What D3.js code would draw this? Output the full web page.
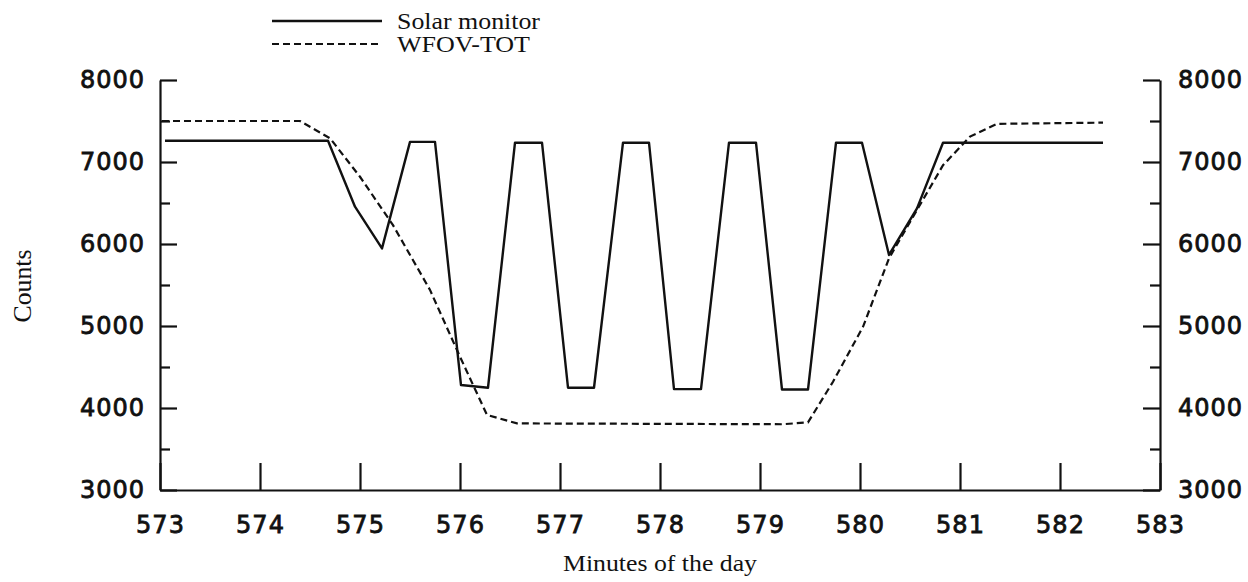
<!DOCTYPE html>
<html>
<head>
<meta charset="utf-8">
<script src="https://cdn.jsdelivr.net/npm/d3@7/dist/d3.min.js"></script>
<style>
  body { margin: 0; background: #fff; }
  svg { display: block; }
  .tick text { font-family: "DejaVu Sans", sans-serif; font-size: 24px; letter-spacing: 1px; fill: #111; stroke: #111; stroke-width: 0.8px; }
  .serif { font-family: "Liberation Serif", "Times New Roman", serif; font-size: 23px; fill: #111; }
</style>
</head>
<body>
<div class="viz-container"></div>
<script>
// minutes of the day for each series
let solarMinutes = [573.05, 574.68, 574.95, 575.22, 575.5, 575.75, 576.01, 576.28, 576.55, 576.82,
  577.08, 577.34, 577.63, 577.89, 578.14, 578.41, 578.69, 578.96, 579.22, 579.48,
  579.76, 580.02, 580.29, 580.57, 580.83, 582.43];
let solarCounts = [7260, 7260, 6455, 5946, 7245, 7245, 4280, 4247, 7235, 7235,
  4247, 4247, 7235, 7235, 4230, 4230, 7235, 7235, 4225, 4225,
  7235, 7235, 5866, 6435, 7235, 7235];

let wfovMinutes = [573.02, 574.4, 574.7, 575.0, 575.33, 575.7, 576.0, 576.27, 576.57,
  579.23, 579.48, 579.73, 580.03, 580.29, 580.57, 580.83, 581.1, 581.37, 582.43];
let wfovCounts = [7500, 7500, 7290, 6820, 6230, 5440, 4625, 3915, 3812,
  3802, 3825, 4320, 4990, 5825, 6415, 6960, 7310, 7465, 7480];

let xTicks = [573, 574, 575, 576, 577, 578, 579, 580, 581, 582, 583];
let yTicks = [3000, 4000, 5000, 6000, 7000, 8000];
let yMinorTicks = [3500, 4500, 5500, 6500, 7500];

let legendNames = ["Solar monitor", "WFOV-TOT"];

let viz = d3.select(".viz-container")
  .append("svg")
    .attr("width", 1248)
    .attr("height", 582);

let x = d3.scaleLinear().domain([573, 583]).range([160, 1160]);
let y = d3.scaleLinear().domain([3000, 8000]).range([490, 80]);
let fmt = d3.format("d");

// left axis
viz.append("g")
  .attr("transform", "translate(160,0)")
  .call(d3.axisLeft(y).tickValues(yTicks).tickSizeInner(-17).tickSizeOuter(0).tickPadding(15).tickFormat(fmt));
viz.append("g")
  .attr("class", "minor")
  .attr("transform", "translate(160,0)")
  .call(d3.axisLeft(y).tickValues(yMinorTicks).tickSizeInner(-10).tickSizeOuter(0).tickFormat(""));

// right axis
viz.append("g")
  .attr("transform", "translate(1160,0)")
  .call(d3.axisRight(y).tickValues(yTicks).tickSizeInner(-17).tickSizeOuter(0).tickPadding(18).tickFormat(fmt));
viz.append("g")
  .attr("class", "minor")
  .attr("transform", "translate(1160,0)")
  .call(d3.axisRight(y).tickValues(yMinorTicks).tickSizeInner(-10).tickSizeOuter(0).tickFormat(""));

// bottom axis
viz.append("g")
  .attr("transform", "translate(0,490)")
  .call(d3.axisBottom(x).tickValues(xTicks).tickSizeInner(-27).tickSizeOuter(0).tickPadding(26).tickFormat(fmt));

viz.selectAll(".minor .domain").remove();
viz.selectAll(".domain").attr("stroke", "#111").attr("stroke-width", 2.2);
viz.selectAll(".tick line").attr("stroke", "#111").attr("stroke-width", 2.2);

// series
let line = d3.line().x(d => x(d[0])).y(d => y(d[1]));

viz.append("path")
  .datum(d3.zip(wfovMinutes, wfovCounts))
  .attr("d", line)
  .attr("fill", "none")
  .attr("stroke", "#111")
  .attr("stroke-width", 2.2)
  .attr("stroke-dasharray", "7,4");

viz.append("path")
  .datum(d3.zip(solarMinutes, solarCounts))
  .attr("d", line)
  .attr("fill", "none")
  .attr("stroke", "#111")
  .attr("stroke-width", 2.4)
  .attr("stroke-linejoin", "round");

// legend
let legend = viz.selectAll(".legend").data(legendNames).enter()
  .append("g")
    .attr("class", "legend")
    .attr("transform", (d, i) => "translate(272," + (21 + i * 23) + ")");
legend.append("line")
  .attr("x1", 0).attr("x2", 110)
  .attr("stroke", "#111")
  .attr("stroke-width", (d, i) => i == 0 ? 2.4 : 2.2)
  .attr("stroke-dasharray", (d, i) => i == 0 ? null : "7,4");
legend.append("text")
  .attr("class", "serif")
  .attr("x", 125)
  .attr("y", 8)
  .attr("textLength", (d, i) => i == 0 ? 143 : 133)
  .attr("lengthAdjust", "spacingAndGlyphs")
  .text(d => d);

// axis titles
viz.append("text")
  .attr("class", "serif")
  .attr("x", 660).attr("y", 571)
  .attr("text-anchor", "middle")
  .attr("textLength", 194)
  .attr("lengthAdjust", "spacingAndGlyphs")
  .text("Minutes of the day");

viz.append("text")
  .attr("class", "serif")
  .attr("transform", "translate(31,286) rotate(-90)")
  .attr("text-anchor", "middle")
  .attr("textLength", 73)
  .attr("lengthAdjust", "spacingAndGlyphs")
  .style("font-size", "26px")
  .text("Counts");
</script>
</body>
</html>
